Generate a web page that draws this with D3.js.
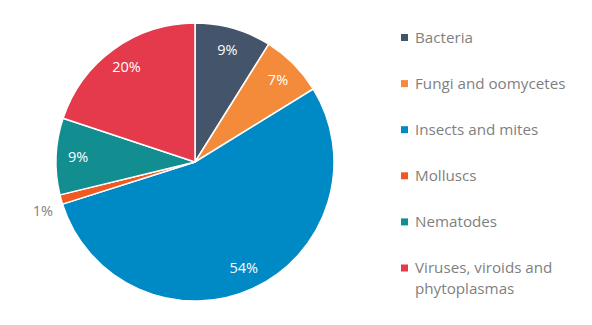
<!DOCTYPE html>
<html>
<head>
<meta charset="utf-8">
<script src="https://cdn.jsdelivr.net/npm/d3@7"></script>
<style>
  html, body { margin: 0; padding: 0; background: #fff; }
  svg text { font-family: "Open Sans", sans-serif; }
</style>
</head>
<body>
<div id="container"></div>
<script>
// pest groups, shares (percent)
var categories = ["Bacteria", "Fungi and oomycetes", "Insects and mites", "Molluscs", "Nematodes", "Viruses, viroids and phytoplasmas"];
var values = [8.9, 7.3, 53.9, 1.1, 8.9, 19.9];
var labels = ["9%", "7%", "54%", "1%", "9%", "20%"];
var legendLines = [["Bacteria"], ["Fungi and oomycetes"], ["Insects and mites"], ["Molluscs"], ["Nematodes"], ["Viruses, viroids and", "phytoplasmas"]];
var colors = ["#44546a", "#f38b3b", "#008ac5", "#f05a22", "#128e90", "#e5394c"];

var W = 592, H = 325;
var cx = 195, cy = 162, R = 139;

var svg = d3.select("#container").append("svg")
  .attr("width", W).attr("height", H)
  .attr("viewBox", "0 0 " + W + " " + H);

var data = categories.map(function (c, i) {
  return { name: c, value: values[i], label: labels[i], color: colors[i] };
});

var pie = d3.pie().sort(null).value(function (d) { return d.value; });
var arcs = pie(data);

var arc = d3.arc().innerRadius(0).outerRadius(R);
var labelArc = d3.arc().innerRadius(117).outerRadius(117);
var outerLabelArc = d3.arc().innerRadius(158).outerRadius(158);

var g = svg.append("g").attr("transform", "translate(" + cx + "," + cy + ")");

g.selectAll("path.slice")
  .data(arcs)
  .enter().append("path")
  .attr("class", "slice")
  .attr("d", arc)
  .attr("fill", function (d) { return d.data.color; })
  .attr("stroke", "#fff")
  .attr("stroke-width", 1.5)
  .attr("stroke-linejoin", "round");

// small slices get their label outside the pie
g.selectAll("text.lbl")
  .data(arcs)
  .enter().append("text")
  .attr("class", "lbl")
  .attr("transform", function (d) {
    var small = d.data.value < 3;
    var p = small ? outerLabelArc.centroid(d) : labelArc.centroid(d);
    if (small) p[1] += 6;
    return "translate(" + p[0] + "," + p[1] + ")";
  })
  .attr("dy", "0.35em")
  .attr("text-anchor", "middle")
  .attr("font-size", 14.5)
  .attr("fill", function (d) { return d.data.value < 3 ? "#7f7f7f" : "#fff"; })
  .text(function (d) { return d.data.label; });

// legend
var legY = d3.scalePoint().domain(categories).range([37.5, 268]);

var leg = svg.append("g").selectAll("g")
  .data(data)
  .enter().append("g")
  .attr("transform", function (d) { return "translate(401," + legY(d.name) + ")"; });

leg.append("rect")
  .attr("x", 0).attr("y", -3.5)
  .attr("width", 7).attr("height", 7)
  .attr("fill", function (d) { return d.color; });

leg.append("text")
  .attr("x", 14)
  .attr("font-size", 15.2)
  .attr("fill", "#7f7f7f")
  .selectAll("tspan")
  .data(function (d, i) { return legendLines[i]; })
  .enter().append("tspan")
  .attr("x", 14)
  .attr("y", function (t, j) { return j * 20.5; })
  .attr("dy", "0.35em")
  .text(function (t) { return t; });
</script>
</body>
</html>
